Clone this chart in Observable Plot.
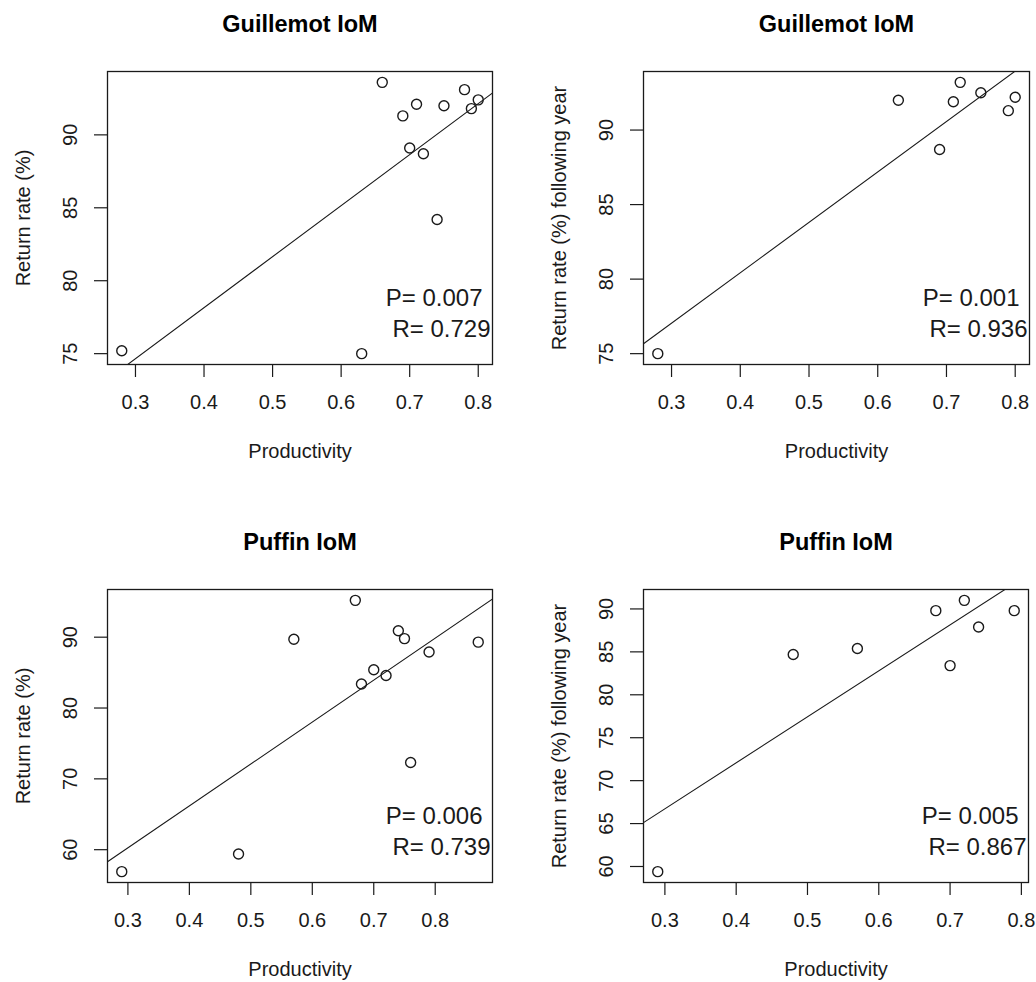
<!DOCTYPE html>
<html>
<head>
<meta charset="utf-8">
<script src="https://cdn.jsdelivr.net/npm/d3@7"></script>
<script src="https://cdn.jsdelivr.net/npm/@observablehq/plot@0.6"></script>
<style>
  html, body { margin: 0; padding: 0; background: #fff; }
  #wrap { position: relative; width: 1036px; height: 982px; overflow: hidden; background: #fff; }
  #wrap svg { position: absolute; overflow: visible; }
</style>
</head>
<body>
<div id="wrap"></div>
<script>
// ---- Data ----
// Guillemot IoM: return rate vs productivity (same year)
const guilProd1 = [0.28, 0.66, 0.78, 0.80, 0.79, 0.71, 0.75, 0.69, 0.70, 0.72, 0.74, 0.63];
const guilRet1  = [75.2, 93.6, 93.1, 92.4, 91.8, 92.1, 92.0, 91.3, 89.1, 88.7, 84.2, 75.0];
// Guillemot IoM: return rate following year
const guilProd2 = [0.28, 0.63, 0.72, 0.75, 0.71, 0.80, 0.79, 0.69];
const guilRet2  = [75.0, 92.0, 93.2, 92.5, 91.9, 92.2, 91.3, 88.7];
// Puffin IoM: return rate vs productivity (same year)
const puffProd1 = [0.29, 0.48, 0.57, 0.67, 0.68, 0.70, 0.72, 0.74, 0.75, 0.79, 0.76, 0.87];
const puffRet1  = [56.9, 59.4, 89.7, 95.2, 83.4, 85.4, 84.6, 90.9, 89.8, 87.9, 72.3, 89.3];
// Puffin IoM: return rate following year
const puffProd2 = [0.29, 0.48, 0.57, 0.68, 0.72, 0.74, 0.70, 0.79];
const puffRet2  = [59.4, 84.7, 85.4, 89.8, 91.0, 87.9, 83.4, 89.8];

const titles  = ["Guillemot IoM", "Guillemot IoM", "Puffin IoM", "Puffin IoM"];
const yLabels = ["Return rate (%)", "Return rate (%) following year", "Return rate (%)", "Return rate (%) following year"];
const xLabel  = "Productivity";
const pTexts  = ["P= 0.007", "P= 0.001", "P= 0.006", "P= 0.005"];
const rTexts  = ["R= 0.729", "R= 0.936", "R= 0.739", "R= 0.867"];
const xTicks  = [0.3, 0.4, 0.5, 0.6, 0.7, 0.8];
const yTicksG  = [75, 80, 85, 90];
const yTicksP1 = [60, 70, 80, 90];
const yTicksP2 = [60, 65, 70, 75, 80, 85, 90];

// ---- Helpers ----
const FONT = "'Liberation Sans', Arial, Helvetica, sans-serif";
const INK = "#1a1a1a";

function rDomain(v) { // R style: extend range by 4% on both sides
  const [lo, hi] = d3.extent(v);
  const pad = (hi - lo) * 0.04;
  return [lo - pad, hi + pad];
}
function fit(xs, ys) {
  const mx = d3.mean(xs), my = d3.mean(ys);
  let sxy = 0, sxx = 0;
  xs.forEach((x, i) => { sxy += (x - mx) * (ys[i] - my); sxx += (x - mx) ** 2; });
  const b = sxy / sxx;
  return {a: my - b * mx, b};
}

const panels = [
  {xs: guilProd1, ys: guilRet1, yTicks: yTicksG,  left: 0,   top: 0,   ml: 107, mr: 26, mt: 71, mb: 118},
  {xs: guilProd2, ys: guilRet2, yTicks: yTicksG,  left: 518, top: 0,   ml: 125, mr: 7,  mt: 71, mb: 118},
  {xs: puffProd1, ys: puffRet1, yTicks: yTicksP1, left: 0,   top: 500, ml: 107, mr: 26, mt: 89, mb: 100},
  {xs: puffProd2, ys: puffRet2, yTicks: yTicksP2, left: 518, top: 500, ml: 125, mr: 8,  mt: 89, mb: 100}
];

const wrap = document.getElementById("wrap");

panels.forEach((p, i) => {
  const pts = p.xs.map((x, j) => ({x, y: p.ys[j]}));
  const xd = rDomain(p.xs), yd = rDomain(p.ys);
  const {a, b} = fit(p.xs, p.ys);
  const reg = xd.map(x => ({x, y: a + b * x}));

  const chart = Plot.plot({
    width: 518,
    height: 482,
    marginLeft: p.ml, marginRight: p.mr, marginTop: p.mt, marginBottom: p.mb,
    style: {fontFamily: FONT, color: INK, background: "transparent", overflow: "visible"},
    x: {domain: xd},
    y: {domain: yd},
    marks: [
      Plot.frame({stroke: INK, strokeWidth: 1.3}),
      Plot.axisX({ticks: xTicks, tickSize: 13, tickPadding: 17, tickFormat: d3.format(".1f"),
                  fontSize: 20, label: null, stroke: INK, strokeWidth: 1.2}),
      Plot.axisY({ticks: p.yTicks, tickSize: 13, tickFormat: () => "", label: null,
                  stroke: INK, strokeWidth: 1.2}),
      Plot.text(p.yTicks, {y: d => d, text: d => String(d), frameAnchor: "left", rotate: -90,
                  dx: -37, fontSize: 20, textAnchor: "middle", lineAnchor: "middle", fill: INK}),
      Plot.line(reg, {x: "x", y: "y", stroke: INK, strokeWidth: 1.1, clip: true}),
      Plot.dot(pts, {x: "x", y: "y", r: 5, stroke: INK, strokeWidth: 1.4, fill: "none"}),
      Plot.text([titles[i]], {text: d => d, frameAnchor: "top", dy: -40, lineAnchor: "bottom",
                  fontSize: 23.5, fontWeight: "bold", fill: "#000"}),
      Plot.text([xLabel], {text: d => d, frameAnchor: "bottom", dy: 93, lineAnchor: "bottom",
                  fontSize: 20, fill: INK}),
      Plot.text([yLabels[i]], {text: d => d, frameAnchor: "left", rotate: -90, dx: -84,
                  lineAnchor: "middle", textAnchor: "middle", fontSize: 20, fill: INK}),
      Plot.text([pTexts[i]], {text: d => d, frameAnchor: "bottom-right", textAnchor: "end",
                  lineAnchor: "bottom", dx: -10, dy: -59, fontSize: 24, fill: INK}),
      Plot.text([rTexts[i]], {text: d => d, frameAnchor: "bottom-right", textAnchor: "end",
                  lineAnchor: "bottom", dx: -2, dy: -28, fontSize: 24, fill: INK})
    ]
  });
  chart.style.left = p.left + "px";
  chart.style.top = p.top + "px";
  wrap.appendChild(chart);
});
</script>
</body>
</html>
